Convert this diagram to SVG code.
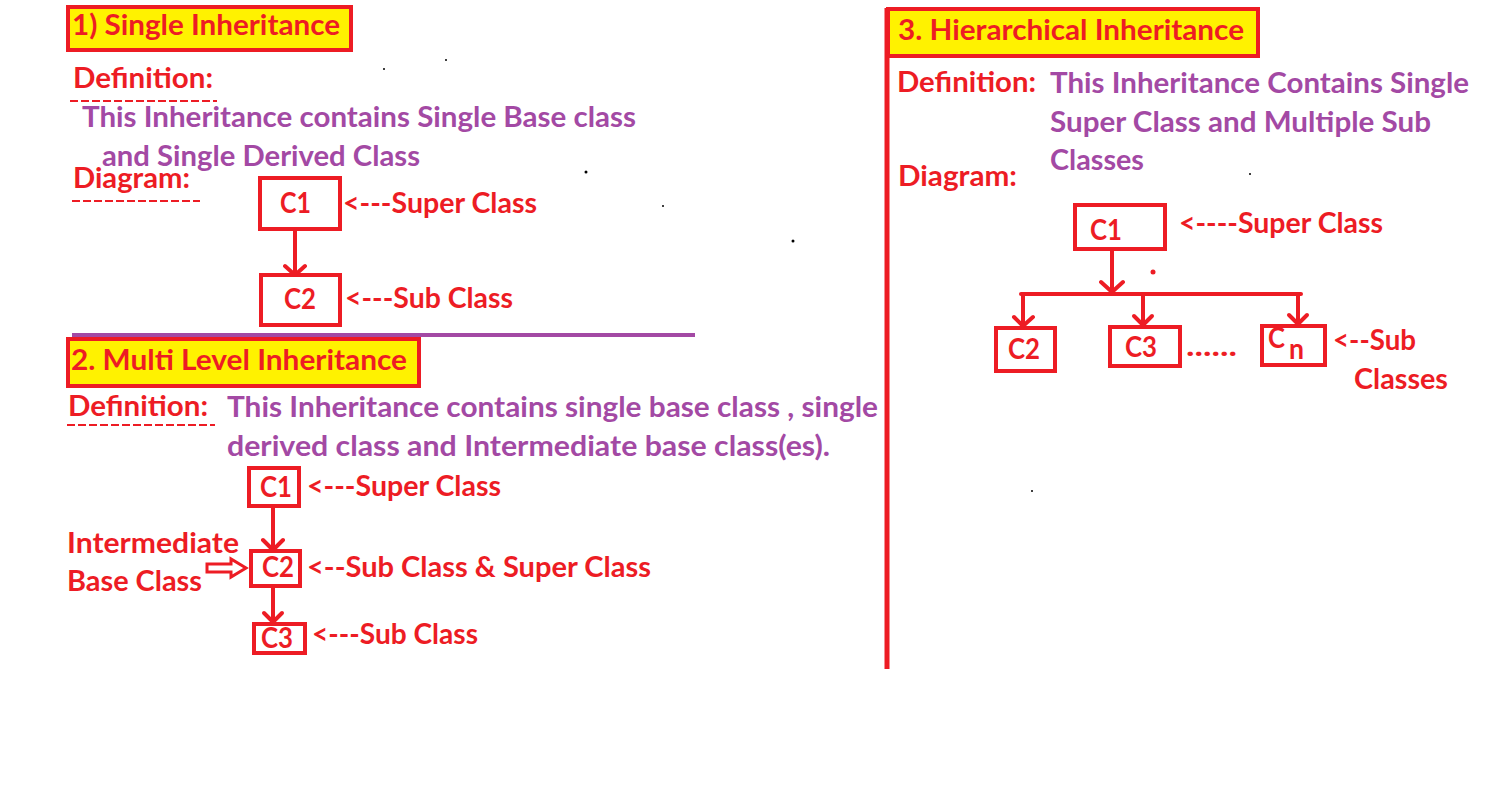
<svg xmlns="http://www.w3.org/2000/svg" width="1492" height="790" viewBox="0 0 1492 790">
<defs>
<style>
text{font-family:Lato,"Liberation Sans",sans-serif;font-weight:bold;font-size:28px}
.r{fill:#ed1c24}
.p{fill:#a349a4}
.title{fill:#fff200;stroke:#ed1c24;stroke-width:4}
.box{fill:none;stroke:#ed1c24;stroke-width:4}
.ln{fill:none;stroke:#ed1c24;stroke-width:4;stroke-linecap:round;stroke-linejoin:round}
.dash{fill:none;stroke:#ed1c24;stroke-width:2;stroke-dasharray:8,3}
</style>
</defs>
<rect width="1492" height="790" fill="#ffffff"/>

<!-- Section 1 -->
<g id="s1-title">
<rect class="title" x="68" y="7" width="283" height="43"/>
<text class="r" x="72" y="35" textLength="268" lengthAdjust="spacingAndGlyphs">1) Single Inheritance</text>
</g>
<g id="s1-def">
<text class="r" x="73" y="88" textLength="140" lengthAdjust="spacingAndGlyphs">Definition:</text>
<line class="dash" x1="70" y1="101" x2="217" y2="101"/>
<text class="p" x="82" y="127" textLength="554" lengthAdjust="spacingAndGlyphs">This Inheritance contains Single Base class</text>
<text class="p" x="102" y="166" textLength="318" lengthAdjust="spacingAndGlyphs">and Single Derived Class</text>
<text class="r" x="73" y="188" textLength="117" lengthAdjust="spacingAndGlyphs">Diagram:</text>
<line class="dash" x1="72" y1="201" x2="200" y2="201"/>
</g>
<g id="s1-c1">
<rect class="box" x="260" y="178" width="80" height="51"/>
<text class="r" x="280" y="213" textLength="31" lengthAdjust="spacingAndGlyphs">C1</text>
<text class="r" x="343" y="213" textLength="194" lengthAdjust="spacingAndGlyphs">&lt;---Super Class</text>
</g>
<g id="s1-c2">
<rect class="box" x="261" y="275" width="79" height="50"/>
<text class="r" x="284" y="309" textLength="32" lengthAdjust="spacingAndGlyphs">C2</text>
<text class="r" x="345" y="308" textLength="168" lengthAdjust="spacingAndGlyphs">&lt;---Sub Class</text>
</g>

<line x1="72" y1="335" x2="695" y2="335" stroke="#a349a4" stroke-width="4"/>

<!-- Section 2 -->
<g id="s2-title">
<rect class="title" x="68" y="339" width="351" height="47"/>
<text class="r" x="71" y="370" textLength="336" lengthAdjust="spacingAndGlyphs">2. Multi Level Inheritance</text>
</g>
<g id="s2-def">
<text class="r" x="68" y="416" textLength="140" lengthAdjust="spacingAndGlyphs">Definition:</text>
<line class="dash" x1="67" y1="425" x2="215" y2="425"/>
<text class="p" x="227" y="417" textLength="651" lengthAdjust="spacingAndGlyphs">This Inheritance contains single base class , single</text>
<text class="p" x="227" y="456" textLength="603" lengthAdjust="spacingAndGlyphs">derived class and Intermediate base class(es).</text>
</g>
<g id="s2-c1">
<rect class="box" x="249" y="468" width="50" height="38"/>
<text class="r" x="260" y="497" textLength="32" lengthAdjust="spacingAndGlyphs">C1</text>
<text class="r" x="307" y="496" textLength="194" lengthAdjust="spacingAndGlyphs">&lt;---Super Class</text>
</g>
<g id="s2-c2">
<rect class="box" x="251" y="551" width="49" height="35"/>
<text class="r" x="262" y="577" textLength="32" lengthAdjust="spacingAndGlyphs">C2</text>
<text class="r" x="307" y="577" textLength="344" lengthAdjust="spacingAndGlyphs">&lt;--Sub Class &amp; Super Class</text>
</g>
<g id="s2-intermediate">
<text class="r" x="67" y="553" textLength="172" lengthAdjust="spacingAndGlyphs">Intermediate</text>
<text class="r" x="67" y="591" textLength="135" lengthAdjust="spacingAndGlyphs">Base Class</text>
<path d="M207,564 H231 V559 L246,568 L231,577 V572 H207 Z" fill="#ffffff" stroke="#ed1c24" stroke-width="3" stroke-linejoin="miter"/>
</g>
<g id="s2-c3">
<rect class="box" x="254" y="624" width="51" height="29"/>
<text class="r" x="261" y="648" textLength="32" lengthAdjust="spacingAndGlyphs">C3</text>
<text class="r" x="312" y="644" textLength="166" lengthAdjust="spacingAndGlyphs">&lt;---Sub Class</text>
</g>

<line x1="887" y1="8" x2="887" y2="669" stroke="#ed1c24" stroke-width="5"/>

<!-- Section 3 -->
<g id="s3-title">
<rect class="title" x="888" y="9" width="370" height="47"/>
<text class="r" x="898" y="40" textLength="346" lengthAdjust="spacingAndGlyphs">3. Hierarchical Inheritance</text>
</g>
<g id="s3-def">
<text class="r" x="897" y="92" textLength="139" lengthAdjust="spacingAndGlyphs">Definition:</text>
<text class="p" x="1050" y="93" textLength="419" lengthAdjust="spacingAndGlyphs">This Inheritance Contains Single</text>
<text class="p" x="1050" y="132" textLength="381" lengthAdjust="spacingAndGlyphs">Super Class and Multiple Sub</text>
<text class="p" x="1050" y="170" textLength="94" lengthAdjust="spacingAndGlyphs">Classes</text>
<text class="r" x="898" y="186" textLength="119" lengthAdjust="spacingAndGlyphs">Diagram:</text>
</g>
<g id="s3-c1">
<rect class="box" x="1075" y="205" width="90" height="44"/>
<text class="r" x="1090" y="240" textLength="32" lengthAdjust="spacingAndGlyphs">C1</text>
<text class="r" x="1179" y="233" textLength="204" lengthAdjust="spacingAndGlyphs">&lt;----Super Class</text>
</g>
<g id="s3-c2">
<rect class="box" x="996" y="328" width="59" height="43"/>
<text class="r" x="1008" y="359" textLength="32" lengthAdjust="spacingAndGlyphs">C2</text>
</g>
<g id="s3-c3">
<rect class="box" x="1110" y="327" width="70" height="39"/>
<text class="r" x="1125" y="357" textLength="32" lengthAdjust="spacingAndGlyphs">C3</text>
<text class="r" x="1186" y="356" textLength="51" lengthAdjust="spacingAndGlyphs">......</text>
</g>
<g id="s3-cn">
<rect class="box" x="1262" y="326" width="63" height="39"/>
<text class="r" x="1268" y="348" textLength="17" lengthAdjust="spacingAndGlyphs">C</text>
<text class="r" x="1289" y="359" textLength="15" lengthAdjust="spacingAndGlyphs">n</text>
<text class="r" x="1333" y="350" textLength="83" lengthAdjust="spacingAndGlyphs">&lt;--Sub</text>
<text class="r" x="1354" y="389" textLength="94" lengthAdjust="spacingAndGlyphs">Classes</text>
</g>

<g id="connectors">
<path class="ln" d="M295,231 V274 M285,266 L295,275 L305,266"/>
<path class="ln" d="M273,508 V549 M263,540 L273,550 L283,540"/>
<path class="ln" d="M273,588 V621 M264,613 L273,622 L282,613"/>
<path class="ln" d="M1112,251 V293 M1101,282 L1112,292 L1123,282"/>
<path class="ln" d="M1021,294 H1301"/>
<path class="ln" d="M1023,294 V326 M1014,317 L1023,326 L1033,317"/>
<path class="ln" d="M1143,294 V325 M1134,316 L1143,325 L1152,316"/>
<path class="ln" d="M1298,294 V324 M1289,315 L1298,324 L1307,315"/>
</g>

<g id="specks">
<circle cx="1153" cy="272" r="2.5" fill="#ed1c24"/>
<circle cx="384" cy="69" r="1" fill="#000"/>
<circle cx="446" cy="60" r="1" fill="#000"/>
<circle cx="586" cy="172" r="1.5" fill="#000"/>
<circle cx="663" cy="206" r="1" fill="#000"/>
<circle cx="793" cy="241" r="1.5" fill="#000"/>
<circle cx="1250" cy="174" r="1" fill="#000"/>
<circle cx="1032" cy="491" r="1" fill="#000"/>
</g>
</svg>
